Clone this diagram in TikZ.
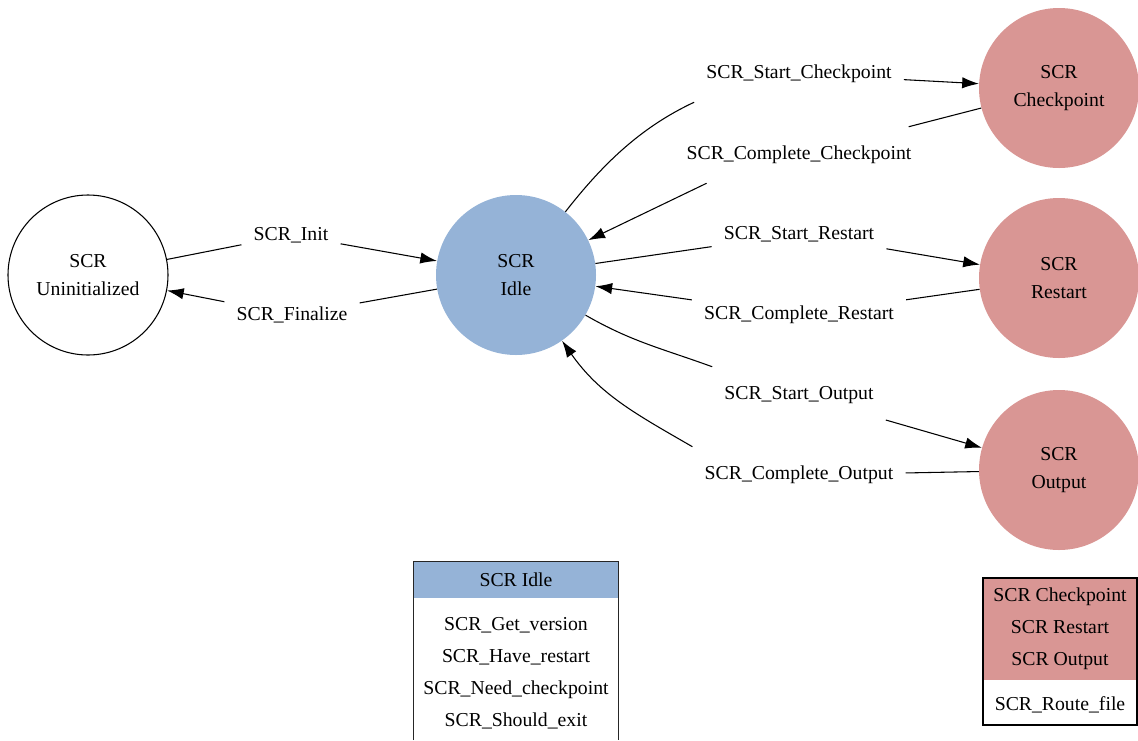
\documentclass[tikz,border=0pt]{standalone}
\usepackage{fontspec}
\setmainfont{Liberation Serif}
\usetikzlibrary{arrows.meta}
\definecolor{idleblue}{RGB}{149,179,215}
\definecolor{opred}{RGB}{217,150,148}

\begin{document}
\begin{tikzpicture}
	[x=0.75pt,y=0.75pt,font=\fontsize{14.8}{21}\selectfont,
	state/.style={circle,minimum size=120pt,inner sep=0pt,align=center},
	lbl/.style={rectangle,inner xsep=9pt,inner ysep=0pt,minimum height=42pt},
	legend/.style={rectangle,inner sep=0pt,align=center,font=\fontsize{14.8}{24}\selectfont},
	>={Latex[length=12.5pt,width=8.5pt]}]
    \useasboundingbox (0,0) rectangle (1138,-740);
    % states
    \node[state,draw,thick] (uninit) at (88,-275) {SCR\\Uninitialized};
    \node[state,fill=idleblue] (idle) at (516,-275) {SCR\\Idle};
    \node[state,fill=opred] (ckpt) at (1059,-88) {SCR\\Checkpoint};
    \node[state,fill=opred] (rest) at (1059,-278) {SCR\\Restart};
    \node[state,fill=opred] (outp) at (1059,-470) {SCR\\Output};
    % transition labels
    \node[lbl] (init) at (291,-235) {SCR\_Init};
    \node[lbl] (fin) at (292,-315) {SCR\_Finalize};
    \node[lbl] (scp) at (799,-74) {SCR\_Start\_Checkpoint};
    \node[lbl] (ccp) at (799,-155) {SCR\_Complete\_Checkpoint};
    \node[lbl] (ssr) at (799,-234) {SCR\_Start\_Restart};
    \node[lbl] (csr) at (799,-315) {SCR\_Complete\_Restart};
    \node[lbl] (sop) at (799,-395) {SCR\_Start\_Output};
    \node[lbl] (cop) at (799,-475) {SCR\_Complete\_Output};
    % transitions
    \draw [thick] (uninit) -- (init);
    \draw [thick,->] (init) -- (idle);
    \draw [thick] (idle) -- (fin);
    \draw [thick,->] (fin) -- (uninit);
    \draw [thick] (idle) to[out=52,in=205,looseness=0.9] (scp.south west);
    \draw [thick,->] (scp) -- (ckpt);
    \draw [thick] (ckpt) -- (ccp);
    \draw [thick,->] (ccp.197) -- (idle);
    \draw [thick] (idle) -- (ssr);
    \draw [thick,->] (ssr) -- (rest);
    \draw [thick] (rest) -- (csr);
    \draw [thick,->] (csr) -- (idle);
    \draw [thick] (idle) to[out=-30,in=160] (sop.north west);
    \draw [thick,->] (sop) -- (outp);
    \draw [thick] (outp) -- (cop);
    \draw [thick,->] (cop.north west) to[out=150,in=-55] (idle);
    % legends
    \node[fill=idleblue,minimum width=153.75pt,minimum height=27.75pt] (idlehead) at (516,-579.5) {SCR Idle};
    \node[legend] (idlebody) at (516,-673) {SCR\_Get\_version\\SCR\_Have\_restart\\SCR\_Need\_checkpoint\\SCR\_Should\_exit};
    \draw [thick,black!85] (413.5,-740) |- (618.5,-561.5) -- (618.5,-740);
    \node[legend,fill=opred,minimum width=115.5pt,minimum height=76.5pt] (oplegend) at (1060,-629) {SCR Checkpoint\\SCR Restart\\SCR Output};
    \node[legend] (oproute) at (1060,-705) {SCR\_Route\_file};
    \draw [thick] (983,-578) rectangle (1137,-725);
\end{tikzpicture}
\end{document}
